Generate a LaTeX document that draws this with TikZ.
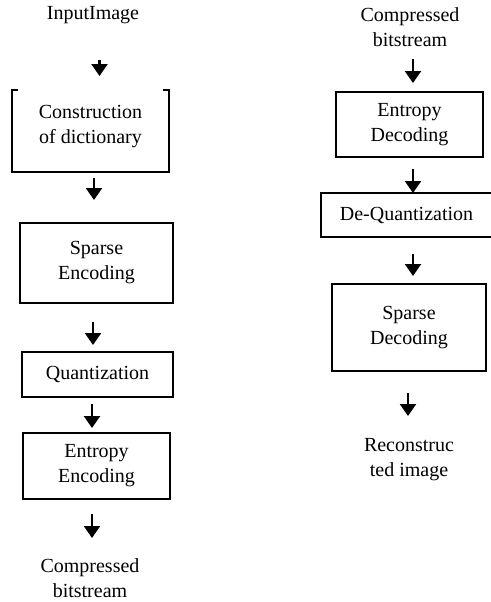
\documentclass[tikz,border=0pt]{standalone}
\usepackage{fontspec}
\setmainfont{Liberation Serif}
\usetikzlibrary{arrows.meta}

\tikzset{
  block/.style={rectangle, draw, line width=0.8pt, align=center, inner sep=0pt, font=\fontsize{10}{12.5}\selectfont},
  caption/.style={align=center, inner sep=0pt, font=\fontsize{10}{12.5}\selectfont},
  flow/.style={line width=1.1pt, -{Triangle[length=6pt,width=8pt]}}
}

\begin{document}
\begin{tikzpicture}[x=0.5pt, y=-0.5pt]
\useasboundingbox (0,0) rectangle (491,602);

% encoder side
\node[caption] (in) at (93,15.5) {InputImage};
\coordinate (a1s) at (99.5,60);
\coordinate (a1e) at (99.5,76);
\draw[flow] (a1s) -- (a1e);

\node[block, draw=none, minimum width=77.5pt, minimum height=40pt, text depth=6.7pt] (dict) at (90.5,131) {Construction\\of dictionary};
\draw[line width=0.8pt] ([xshift=3pt]dict.north west) -- (dict.north west) -- (dict.south west) -- (dict.south east) -- (dict.north east) -- ([xshift=-3pt]dict.north east);
\coordinate (a2s) at (94,178);
\coordinate (a2e) at (94,200);
\draw[flow] (a2s) -- (a2e);

\node[block, minimum width=76.5pt, minimum height=40pt] (senc) at (96.5,263) {Sparse\\Encoding};
\coordinate (a3s) at (93,322);
\coordinate (a3e) at (93,345);
\draw[flow] (a3s) -- (a3e);

\node[block, minimum width=75.5pt, minimum height=22.5pt] (quant) at (97.5,374.5) {Quantization};
\coordinate (a4s) at (92,404);
\coordinate (a4e) at (92,428);
\draw[flow] (a4s) -- (a4e);

\node[block, minimum width=73.5pt, minimum height=33pt] (eenc) at (96.5,466) {Entropy\\Encoding};
\coordinate (a5s) at (92,514);
\coordinate (a5e) at (92,538);
\draw[flow] (a5s) -- (a5e);

\node[caption] (out) at (90,578) {Compressed\\bitstream};

% decoder side
\node[caption] (bits) at (410,27.5) {Compressed\\bitstream};
\coordinate (b1s) at (413,59);
\coordinate (b1e) at (413,83);
\draw[flow] (b1s) -- (b1e);

\node[block, minimum width=73.5pt, minimum height=32.5pt] (edec) at (409.5,124.5) {Entropy\\Decoding};
\coordinate (b2s) at (413,169);
\coordinate (b2e) at (413,193);
\draw[flow] (b2s) -- (b2e);

\node[block, minimum width=85.5pt, minimum height=22pt] (dquant) at (406.5,215) {De-Quantization};
\coordinate (b3s) at (413,254);
\coordinate (b3e) at (413,276);
\draw[flow] (b3s) -- (b3e);

\node[block, minimum width=77pt, minimum height=43.5pt] (sdec) at (409,327.5) {Sparse\\Decoding};
\coordinate (b4s) at (408,393);
\coordinate (b4e) at (408,416);
\draw[flow] (b4s) -- (b4e);

\node[caption] (rec) at (409,459.5) {Reconstruc\\ted image};

\end{tikzpicture}
\end{document}
